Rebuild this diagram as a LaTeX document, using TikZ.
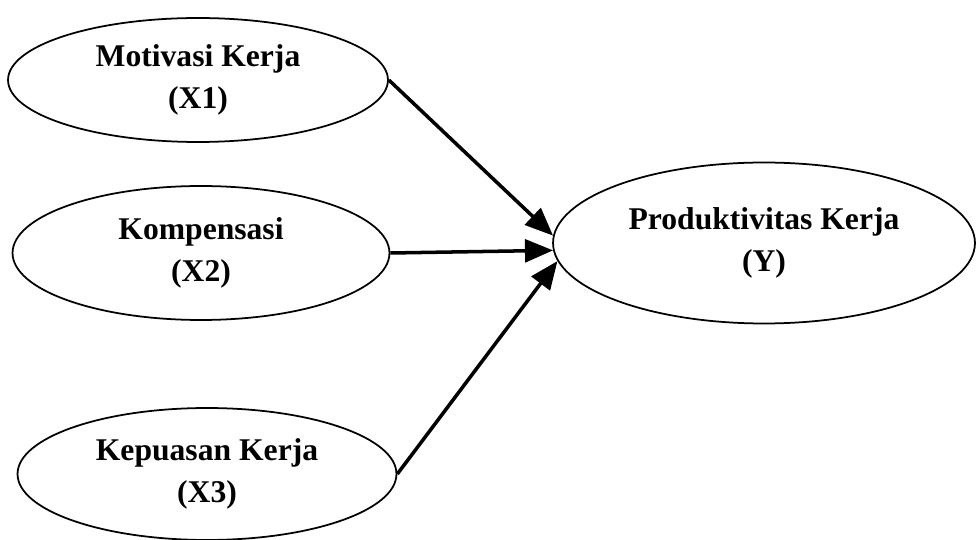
\documentclass[tikz,border=0pt]{standalone}
\usepackage{fontspec}
\setmainfont{Liberation Serif}
\usetikzlibrary{shapes.geometric,arrows.meta}

\begin{document}
\begin{tikzpicture}[x=0.02cm,y=-0.02cm,
    var/.style={ellipse, draw, line width=1pt, inner sep=0pt, align=center,
      font=\bfseries\fontsize{18}{24}\selectfont},
    path/.style={line width=2pt, -{Triangle[length=16pt,width=13pt]}}]
  % Frame
  \useasboundingbox (0,0) rectangle (976,540);

  % Independent variables
  \node[var, minimum width=7.6cm, minimum height=2.48cm] (x1) at (198,80) {Motivasi Kerja\\(X1)};
  \node[var, minimum width=7.54cm, minimum height=2.68cm] (x2) at (201,253) {Kompensasi\\(X2)};
  \node[var, minimum width=7.58cm, minimum height=2.64cm] (x3) at (207,474) {Kepuasan Kerja\\(X3)};

  % Dependent variable
  \node[var, minimum width=8.44cm, minimum height=3.22cm] (y) at (764,243) {Produktivitas Kerja\\(Y)};

  % Paths
  \draw[path] (x1.east) -- (y.178);
  \draw[path] (x2.east) -- (y.182);
  \draw[path] (x3.east) -- (y.185);
\end{tikzpicture}
\end{document}
